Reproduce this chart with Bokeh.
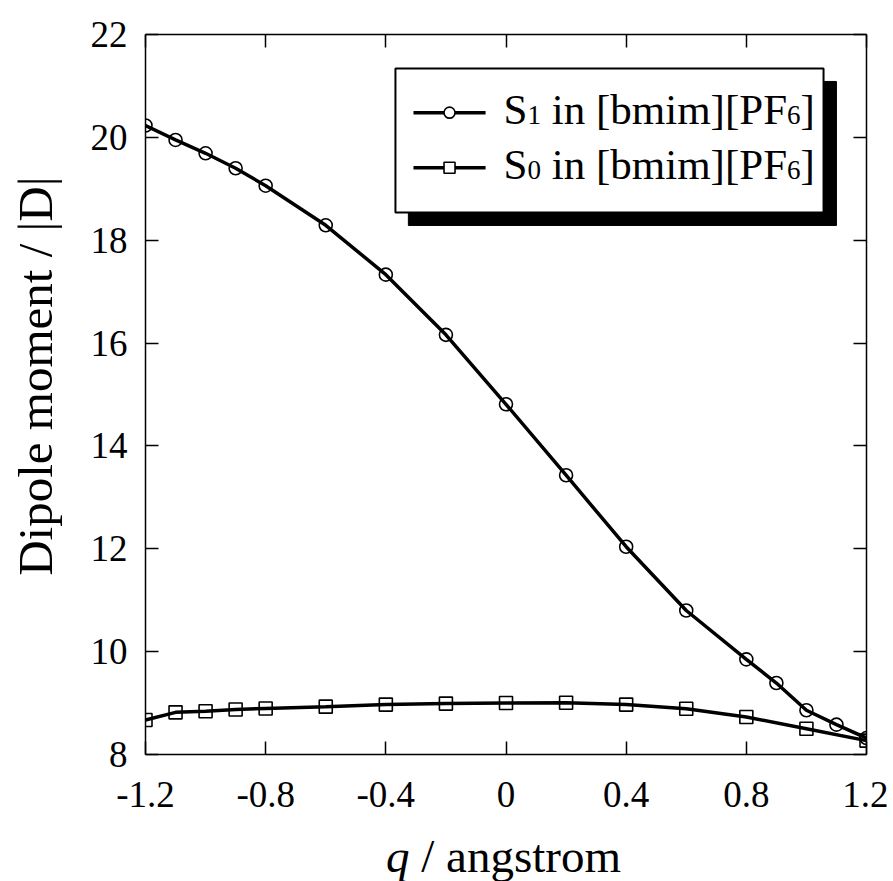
from bokeh.plotting import figure
from bokeh.models import FixedTicker, LinearAxis, Range1d, Div
from bokeh.layouts import column
from bokeh.core.properties import value
from bokeh.embed import file_html
from bokeh.resources import INLINE

# ---- data ----
q_s1 = [-1.2, -1.1, -1.0, -0.9, -0.8, -0.6, -0.4, -0.2, 0.0, 0.2, 0.4, 0.6, 0.8, 0.9, 1.0, 1.1, 1.2]
dip_s1 = [20.23, 19.95, 19.69, 19.40, 19.06, 18.29, 17.33, 16.16, 14.81, 13.43, 12.04, 10.80, 9.85, 9.39, 8.86, 8.58, 8.32]
q_s0 = [-1.2, -1.1, -1.0, -0.9, -0.8, -0.6, -0.4, -0.2, 0.0, 0.2, 0.4, 0.6, 0.8, 1.0, 1.2]
dip_s0 = [8.67, 8.82, 8.84, 8.875, 8.895, 8.93, 8.97, 8.99, 9.00, 9.005, 8.97, 8.89, 8.73, 8.50, 8.27]

x_ticks = [-1.2, -0.8, -0.4, 0, 0.4, 0.8, 1.2]
x_tick_labels = ["-1.2", "-0.8", "-0.4", "0", "0.4", "0.8", "1.2"]
y_ticks = [8, 10, 12, 14, 16, 18, 20, 22]
y_tick_labels = ["8", "10", "12", "14", "16", "18", "20", "22"]

y_title = "Dipole moment / |D|"
x_title_var = "q"
x_title_rest = " / angstrom"
legend_s1 = ("S", "1", "in [bmim][PF", "6", "]")
legend_s0 = ("S", "0", "in [bmim][PF", "6", "]")

FONT = "Liberation Serif"

p = figure(width=888, height=828, output_backend="svg", toolbar_location=None,
           x_range=Range1d(-1.2, 1.2), y_range=Range1d(8, 22),
           x_axis_location=None, y_axis_location=None)
p.min_border_left = 145
p.min_border_right = 22
p.min_border_top = 34
p.min_border_bottom = 74
p.outline_line_color = None
p.grid.visible = False
p.background_fill_color = "white"
p.border_fill_color = "white"


def style_axis(ax, ticks, labels, show, standoff=0):
    ax.major_tick_in = 13
    ax.major_tick_out = 0
    ax.minor_tick_line_color = None
    ax.axis_line_width = 1.5
    ax.axis_line_color = "black"
    ax.major_tick_line_width = 1.5
    ax.major_tick_line_color = "black"
    ax.major_label_text_font = FONT
    ax.major_label_text_color = "black"
    ax.major_label_standoff = standoff
    if show:
        ax.major_label_text_font_size = "37px"
        ax.major_label_overrides = dict(zip(ticks, labels))
    else:
        ax.major_label_text_font_size = "1px"
        ax.major_label_overrides = {t: "" for t in ticks}


bottom = LinearAxis(ticker=FixedTicker(ticks=x_ticks))
style_axis(bottom, x_ticks, x_tick_labels, True, 27)
top = LinearAxis(ticker=FixedTicker(ticks=x_ticks))
style_axis(top, x_ticks, x_tick_labels, False)
left = LinearAxis(ticker=FixedTicker(ticks=y_ticks))
style_axis(left, y_ticks, y_tick_labels, True, 18)
left.axis_label = "\u00a0\u00a0\u00a0" + y_title
left.axis_label_text_font = FONT
left.axis_label_text_font_size = "49px"
left.axis_label_text_font_style = "normal"
left.axis_label_text_color = "black"
left.axis_label_standoff = 25
right = LinearAxis(ticker=FixedTicker(ticks=y_ticks))
style_axis(right, y_ticks, y_tick_labels, False)

p.add_layout(bottom, "below")
p.add_layout(top, "above")
p.add_layout(left, "left")
p.add_layout(right, "right")

# ---- data series ----
p.line(q_s1, dip_s1, line_color="black", line_width=3.5)
p.scatter(q_s1, dip_s1, marker="circle", size=13, fill_color=None,
          line_color="black", line_width=1.6)
p.line(q_s0, dip_s0, line_color="black", line_width=3.5)
p.scatter(q_s0, dip_s0, marker="square", size=13, fill_color=None,
          line_color="black", line_width=1.6)

# ---- legend box with shadow (data-space placement) ----
LB_L, LB_R, LB_T, LB_B = -0.368, 1.057, 21.34, 18.54
SH_DX, SH_DY = 0.043, 0.253
p.quad(left=[LB_L + SH_DX], right=[LB_R + SH_DX], top=[LB_T - SH_DY], bottom=[LB_B - SH_DY],
       fill_color="black", line_color="black")
p.quad(left=[LB_L], right=[LB_R], top=[LB_T], bottom=[LB_B],
       fill_color="white", line_color="black", line_width=2)

rows = [(20.48, "circle", legend_s1), (19.41, "square", legend_s0)]
main_sz, sub_sz = 43, 27
widths = [0.556 * main_sz, 0.5 * sub_sz + 0.25 * main_sz, 5.473 * main_sz, 0.5 * sub_sz]
offs = [0]
for w in widths:
    offs.append(offs[-1] + w)
for ry, mk, parts in rows:
    p.line([-0.308, -0.068], [ry, ry], line_color="black", line_width=3.5)
    p.scatter([-0.188], [ry], marker=mk, size=11, fill_color="white",
              line_color="black", line_width=1.6)
    for i, part in enumerate(parts):
        is_sub = i in (1, 3)
        p.text(x=[-0.008], y=[ry], text=[part], x_offset=offs[i],
               y_offset=2 if is_sub else -3,
               text_font=value(FONT),
               text_font_size="%dpx" % (sub_sz if is_sub else main_sz),
               text_baseline="alphabetic", text_align="left", text_color="black")

# ---- x axis title (italic q) below the plot ----
title_div = Div(
    text='<div style="padding-left:386px; padding-top:5px; font-family:\'Liberation Serif\'; '
         'font-size:47px; line-height:47px; white-space:nowrap; color:black;"><i>%s</i>%s</div>'
         % (x_title_var, x_title_rest.replace(" ", "&nbsp;", 1)),
    width=888, height=48, margin=(0, 0, 0, 0))

layout = column(p, title_div, spacing=0)
open("out.html", "w").write(file_html(layout, INLINE))
